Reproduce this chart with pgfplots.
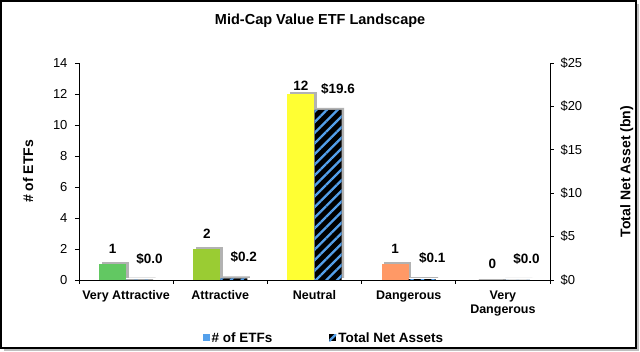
\documentclass[border=0pt]{standalone}
\usepackage{fontspec}
\setmainfont{Liberation Sans}
\usepackage{pgfplots}
\pgfplotsset{compat=1.18}
\usetikzlibrary{patterns.meta,shadows}
\definecolor{cVA}{RGB}{98,200,98}
\definecolor{cA}{RGB}{154,204,51}
\definecolor{cN}{RGB}{255,255,51}
\definecolor{cD}{RGB}{255,153,102}
\definecolor{cVD}{RGB}{230,60,60}
\definecolor{hblue}{RGB}{84,160,235}
\begin{document}
\begin{tikzpicture}
\path (-79pt,-72pt) rectangle (561pt,280pt);
\fill[gray!50] (-75pt,-71pt) rectangle (560pt,276pt);
\filldraw[fill=white,draw=black,line width=1.2pt] (-78pt,-68pt) rectangle (557pt,279pt);
\pgfplotsset{
  mybase/.style={
    scale only axis, width=471pt, height=217pt, at={(0,0)}, anchor=south west,
    xmin=-0.5, xmax=4.5, ymin=0,
    ybar, bar width=27pt,
    tick align=outside, major tick length=4pt,
    tick style={black, line width=0.6pt},
    axis line style={black, line width=0.8pt},
    /pgf/number format/assume math mode=true,
    ticklabel style={font=\fontsize{13}{15}\selectfont},
  },
  shad/.style={drop shadow={shadow xshift=2.5pt,shadow yshift=2pt,fill=gray!60,opacity=1}},
  sqleg/.style={legend image code/.code={\path[##1] (0pt,-3.5pt) rectangle (7pt,3.5pt);}},
  hatch/.style={fill=black, postaction={pattern={Lines[angle=45,distance=7.5pt,line width=2.3pt]}, pattern color=hblue}},
}
\begin{axis}[mybase, ymax=14, ytick={0,2,...,14},
  axis y line*=left, axis x line*=bottom,
  xtick={-0.5,0.5,...,4.5}, xticklabels={},
  extra x ticks={0,1,2,3,4},
  extra x tick labels={Very Attractive, Attractive, Neutral, Dangerous, {Very\\Dangerous}},
  extra x tick style={major tick length=0pt, xticklabel style={font=\bfseries\fontsize{12.5}{14}\selectfont, align=center, yshift=-7pt}},
  yticklabel style={xshift=-4pt},
  ylabel={\# of ETFs},
  ylabel style={font=\bfseries\fontsize{14}{16}\selectfont, at={(axis description cs:-0.108,0.5)}, anchor=center},
  title={Mid-Cap Value ETF Landscape},
  title style={font=\bfseries\fontsize{14.5}{16}\selectfont, at={(axis description cs:0.512,1.166)}, anchor=center},
  nodes near coords,
  every node near coord/.append style={font=\bfseries\fontsize{13.5}{15}\selectfont, text=black, yshift=7pt},
]
\addplot[fill=cVA, draw=none, bar shift=-13.5pt, shad] coordinates {(0,1)};
\addplot[fill=cA, draw=none, bar shift=-13.5pt, shad] coordinates {(1,2)};
\addplot[fill=cN, draw=none, bar shift=-13.5pt, shad, every node near coord/.append style={yshift=-7pt}] coordinates {(2,12)};
\addplot[fill=cD, draw=none, bar shift=-13.5pt, shad] coordinates {(3,1)};
\addplot[fill=cVD, draw=gray!60, line width=2pt, bar shift=-10.5pt] coordinates {(4,0)};
\end{axis}
\begin{axis}[mybase, ymax=25, ytick={0,5,...,25},
  yticklabels={\$0,\$5,\$10,\$15,\$20,\$25},
  axis y line*=right, axis x line=none,
  yticklabel style={xshift=3pt},
  ylabel={Total Net Asset (bn)},
  ylabel style={font=\bfseries\fontsize{14}{16}\selectfont, at={(axis description cs:1.163,0.5)}, anchor=center},
  legend style={at={(axis description cs:0.52,-0.267)}, anchor=center, draw=none, fill=none,
    legend columns=2, font=\bfseries\fontsize{13.5}{15}\selectfont,
    /tikz/every even column/.append style={column sep=55pt}},
]
\addlegendimage{sqleg, fill=hblue, draw=none}
\addlegendimage{sqleg, hatch, draw=none}
\addplot[forget plot, hatch, draw=none, bar shift=13.5pt, shad,
  nodes near coords={\$\pgfmathprintnumber[fixed,fixed zerofill,precision=1]{\pgfplotspointmeta}},
  every node near coord/.append style={font=\bfseries\fontsize{13.5}{15}\selectfont, text=black, xshift=10pt, yshift=12pt}]
  coordinates {(0,0.04) (1,0.2) (2,19.6) (3,0.1) (4,0)};
\legend{\# of ETFs, Total Net Assets}
\end{axis}
\end{tikzpicture}
\end{document}
